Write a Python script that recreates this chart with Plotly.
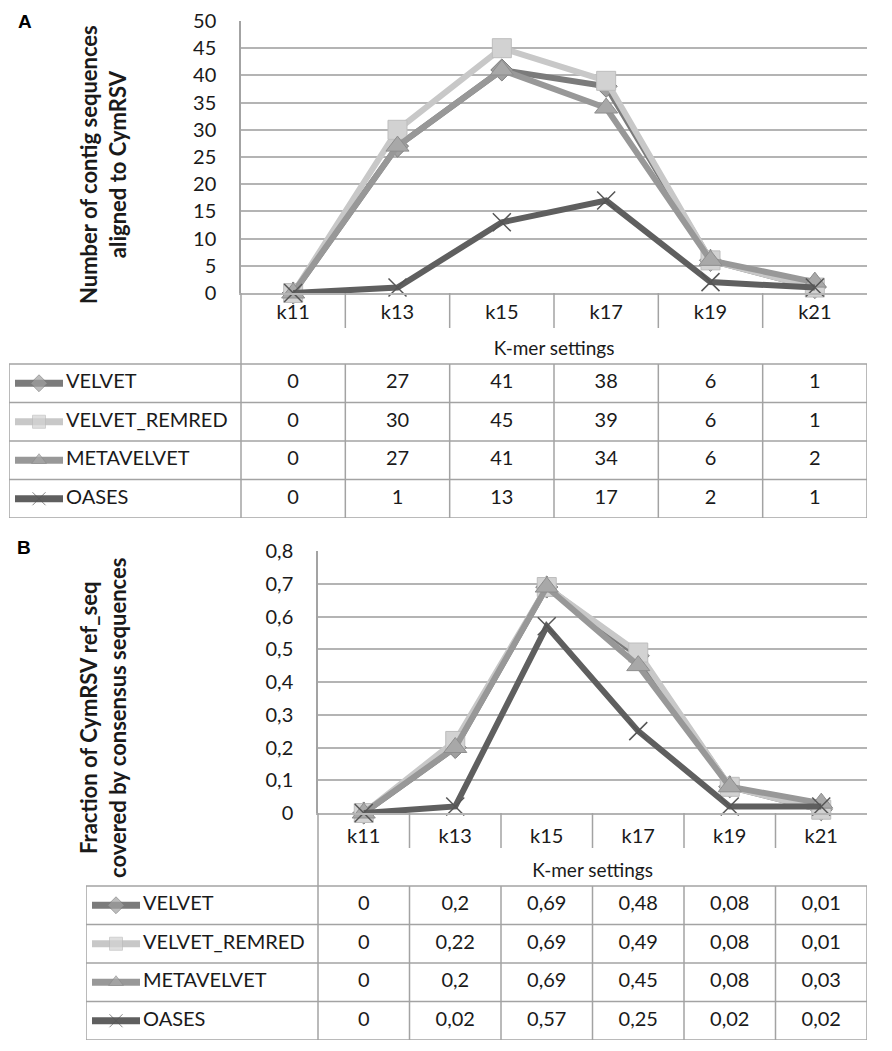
import plotly.graph_objects as go

# data
kmers = ['k11', 'k13', 'k15', 'k17', 'k19', 'k21']
series = ['VELVET', 'VELVET_REMRED', 'METAVELVET', 'OASES']

contigs_velvet = [0, 27, 41, 38, 6, 1]
contigs_remred = [0, 30, 45, 39, 6, 1]
contigs_meta = [0, 27, 41, 34, 6, 2]
contigs_oases = [0, 1, 13, 17, 2, 1]

frac_velvet = [0, 0.2, 0.69, 0.48, 0.08, 0.01]
frac_remred = [0, 0.22, 0.69, 0.49, 0.08, 0.01]
frac_meta = [0, 0.2, 0.69, 0.45, 0.08, 0.03]
frac_oases = [0, 0.02, 0.57, 0.25, 0.02, 0.02]

# styles per series
line_col = ['#7b7b7b', '#c8c8c8', '#989898', '#5f5f5f']
mark_col = ['#a0a0a0', '#d2d2d2', '#a8a8a8', '#555555']
mark_edge = ['#7b7b7b', '#bdbdbd', '#8e8e8e', '#555555']
mark_sym = ['diamond', 'square', 'triangle-up', 'x-thin']
mark_size = [17, 19, 20, 18]

# page body has an 8px margin, so the figure is a bit smaller than the window
OFF = 8
W, H = 892 - 2 * OFF, 1051 - 2 * OFF
FONT = 'Lato'
GRID = '#b4b4b4'
TLINE = '#a3a3a3'
TXT = '#1a1a1a'


def fx(p):
    return (p - OFF) / W


def fy(p):
    return 1 - (p - OFF) / H


def fmt(v):
    return str(v).replace('.', ',')


fig = go.Figure()
shapes = []


def panel(n, values, chart_x, chart_y, table_left, table_bottom, ymax, dtick, standoff):
    xa, ya = 'x' + ('' if n == 1 else str(n)), 'y' + ('' if n == 1 else str(n))
    xt, yt = 'x' + str(n + 1), 'y' + str(n + 1)
    unit = (chart_x[1] - chart_x[0]) / 6.0
    t_left = -0.5 - (chart_x[0] - table_left) / unit
    row_h = 38.5
    t_top = 4 - (table_bottom - chart_y[1]) / row_h

    def tx(p):
        return t_left + (p - table_left) / unit

    def ty(p):
        return 4 - (table_bottom - p) / row_h

    # chart lines
    for i, name in enumerate(series):
        fig.add_trace(go.Scatter(
            x=kmers, y=values[i], mode='lines+markers', name=name,
            xaxis=xa, yaxis=ya, cliponaxis=False, showlegend=False,
            line=dict(color=line_col[i], width=6),
            marker=dict(symbol=mark_sym[i], size=mark_size[i], color=mark_col[i],
                        line=dict(color=mark_edge[i], width=1 if i != 3 else 1.5))))

    # table cell values
    for i, name in enumerate(series):
        fig.add_trace(go.Scatter(
            x=list(range(6)), y=[i + 0.5] * 6, text=[fmt(v) for v in values[i]],
            mode='text', xaxis=xt, yaxis=yt, showlegend=False, hoverinfo='skip',
            textfont=dict(family=FONT, size=20, color=TXT)))
        # legend key inside the table
        fig.add_trace(go.Scatter(
            x=[tx(table_left + 6), tx(table_left + 30), tx(table_left + 54)], y=[i + 0.5] * 3,
            mode='lines+markers', xaxis=xt, yaxis=yt, showlegend=False, hoverinfo='skip',
            line=dict(color=line_col[i], width=7),
            marker=dict(symbol=mark_sym[i], size=[0, 13, 0], color=mark_col[i],
                        line=dict(color=mark_edge[i], width=1))))
        fig.add_trace(go.Scatter(
            x=[tx(table_left + 57)], y=[i + 0.5], text=[name], mode='text',
            textposition='middle right', xaxis=xt, yaxis=yt, showlegend=False,
            hoverinfo='skip', textfont=dict(family=FONT, size=20, color=TXT)))

    fig.add_trace(go.Scatter(
        x=[2.5], y=[-0.36], text=['K-mer settings'], mode='text', xaxis=xt, yaxis=yt,
        showlegend=False, hoverinfo='skip', textfont=dict(family=FONT, size=19, color=TXT)))

    # table grid
    for r in range(5):
        shapes.append(dict(type='line', xref=xt, yref=yt, x0=t_left, x1=5.5, y0=r, y1=r,
                           line=dict(color=TLINE, width=1.5)))
    for c in range(7):
        shapes.append(dict(type='line', xref=xt, yref=yt, x0=c - 0.5, x1=c - 0.5, y0=0, y1=4,
                           line=dict(color=TLINE, width=1.5)))
    shapes.append(dict(type='line', xref=xt, yref=yt, x0=t_left, x1=t_left, y0=0, y1=4,
                       line=dict(color=TLINE, width=1.5)))
    shapes.append(dict(type='line', xref=xt, yref=yt, x0=-0.5, x1=-0.5, y0=t_top, y1=0,
                       line=dict(color=TLINE, width=1.5)))
    for c in range(1, 6):
        shapes.append(dict(type='line', xref=xt, yref=yt, x0=c - 0.5, x1=c - 0.5,
                           y0=t_top, y1=ty(chart_y[1] + 35), line=dict(color=TLINE, width=1.5)))

    dom_x = [fx(chart_x[0]), fx(chart_x[1])]
    fig.layout[xa.replace('x', 'xaxis')] = dict(
        domain=dom_x, type='category', categoryarray=kmers, range=[-0.5, 5.5],
        showgrid=False, showline=True, linecolor=GRID, linewidth=1.5, ticks='',
        ticklabelstandoff=standoff, tickfont=dict(family=FONT, size=20, color=TXT),
        anchor=ya, fixedrange=True, zeroline=False, automargin=False,
        ticklabeloverflow='allow')
    fig.layout[ya.replace('y', 'yaxis')] = dict(
        domain=[fy(chart_y[1]), fy(chart_y[0])], range=[0, ymax], dtick=dtick,
        showgrid=True, gridcolor=GRID, gridwidth=1.5, showline=True, linecolor=TLINE,
        linewidth=1.5, zeroline=False, ticks='', ticklabelstandoff=19,
        tickfont=dict(family=FONT, size=20, color=TXT), anchor=xa, fixedrange=True,
        automargin=False, ticklabeloverflow='allow')
    fig.layout['xaxis' + str(n + 1)] = dict(
        domain=[fx(table_left), fx(chart_x[1])], range=[t_left, 5.5], visible=False,
        anchor=yt, fixedrange=True, automargin=False)
    fig.layout['yaxis' + str(n + 1)] = dict(
        domain=[fy(table_bottom), fy(chart_y[1])], range=[4, t_top], visible=False,
        anchor=xt, fixedrange=True, automargin=False)


panel(1, [contigs_velvet, contigs_remred, contigs_meta, contigs_oases],
      (241, 867), (21, 293), 9, 518, 50, 5, 0)
panel(3, [frac_velvet, frac_remred, frac_meta, frac_oases],
      (318, 867), (551, 813), 86, 1040, 0.8, 0.1, 4)

annotations = [
    dict(text='<b>A</b>', x=fx(16), y=fy(22), xref='paper', yref='paper', showarrow=False,
         xanchor='left', yanchor='middle',
         font=dict(family='Liberation Sans', size=19, color='black')),
    dict(text='<b>B</b>', x=fx(15), y=fy(547), xref='paper', yref='paper', showarrow=False,
         xanchor='left', yanchor='middle',
         font=dict(family='Liberation Sans', size=19, color='black')),
    dict(text='<b>Number of contig sequences<br>aligned to CymRSV</b>', x=fx(103), y=fy(165),
         xref='paper', yref='paper', showarrow=False, textangle=-90,
         xanchor='center', yanchor='middle',
         font=dict(family=FONT, size=22, color=TXT)),
    dict(text='<b>Fraction of CymRSV ref_seq<br>covered by consensus sequences</b>', x=fx(103),
         y=fy(718), xref='paper', yref='paper', showarrow=False, textangle=-90,
         xanchor='center', yanchor='middle',
         font=dict(family=FONT, size=22, color=TXT)),
]

fig.update_layout(
    width=W, height=H, margin=dict(l=0, r=0, t=0, b=0, autoexpand=False),
    paper_bgcolor='white', plot_bgcolor='white', separators=',.',
    shapes=shapes, annotations=annotations, showlegend=False,
    font=dict(family=FONT, color=TXT),
)

fig.write_html('out.html')
